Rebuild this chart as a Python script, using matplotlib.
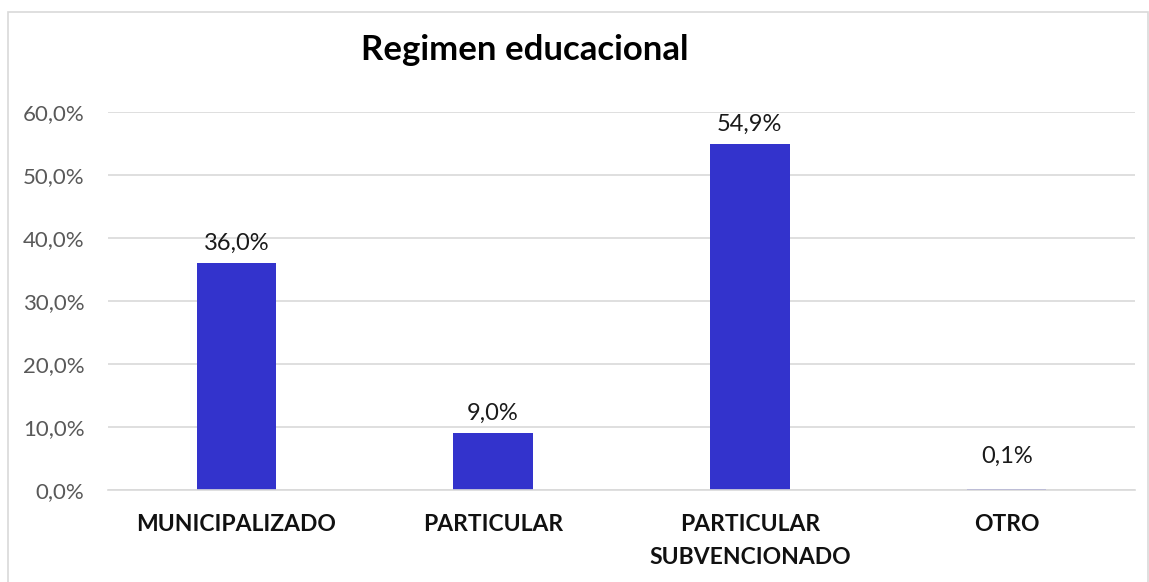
import numpy as np
import matplotlib.pyplot as plt
from matplotlib.patches import Rectangle

categories = ["MUNICIPALIZADO", "PARTICULAR", "PARTICULAR\nSUBVENCIONADO", "OTRO"]
values = [36.0, 9.0, 54.9, 0.1]
bar_labels = ["36,0%", "9,0%", "54,9%", "0,1%"]
yticks = [0, 10, 20, 30, 40, 50, 60]
ytick_labels = ["0,0%", "10,0%", "20,0%", "30,0%", "40,0%", "50,0%", "60,0%"]

plt.rcParams["font.family"] = ["Lato", "DejaVu Sans"]

W, H = 1149, 582
fig = plt.figure(figsize=(W / 100, H / 100), dpi=100)
ax = fig.add_axes([108 / W, 1 - 490 / H, (1135 - 108) / W, (490 - 112) / H])

# outer chart border
fig.patches.append(Rectangle((8 / W, -0.01), (1148 - 8) / W, 1 - 12 / H + 0.01,
                             transform=fig.transFigure, fill=False,
                             edgecolor="#D9D9D9", linewidth=1.2))

x = np.arange(len(categories))
ax.bar(x, values, width=0.31, color="#3333CC", linewidth=0, zorder=2)

for xi, v, lab in zip(x, values, bar_labels):
    if v < 1:
        ax.text(xi, 5.4, lab, ha="center", va="center", fontsize=17, color="#1a1a1a")
    else:
        ax.annotate(lab, (xi, v), xytext=(0, 7), textcoords="offset points",
                    ha="center", va="bottom", fontsize=17, color="#1a1a1a")

ax.set_xlim(-0.5, len(categories) - 0.5)
ax.set_ylim(0, 60)
ax.set_yticks(yticks)
ax.set_yticklabels(ytick_labels, fontsize=16, color="#595959")
ax.set_xticks(x)
ax.set_xticklabels(categories, fontsize=16.5, fontweight="bold", color="#111111",
                   linespacing=1.75, va="top")
ax.tick_params(axis="both", length=0)
ax.tick_params(axis="x", pad=17)
ax.tick_params(axis="y", pad=17)

ax.grid(axis="y", color="#D9D9D9", linewidth=1.2, zorder=0)
for s in ["top", "right", "left"]:
    ax.spines[s].set_visible(False)
ax.spines["bottom"].set_color("#D9D9D9")
ax.spines["bottom"].set_linewidth(1.2)

fig.text(525 / W, 1 - 50 / H, "Regimen educacional", ha="center", va="center",
         fontsize=25, fontweight="bold", color="#000000")

fig.savefig("out.png", dpi=100)
